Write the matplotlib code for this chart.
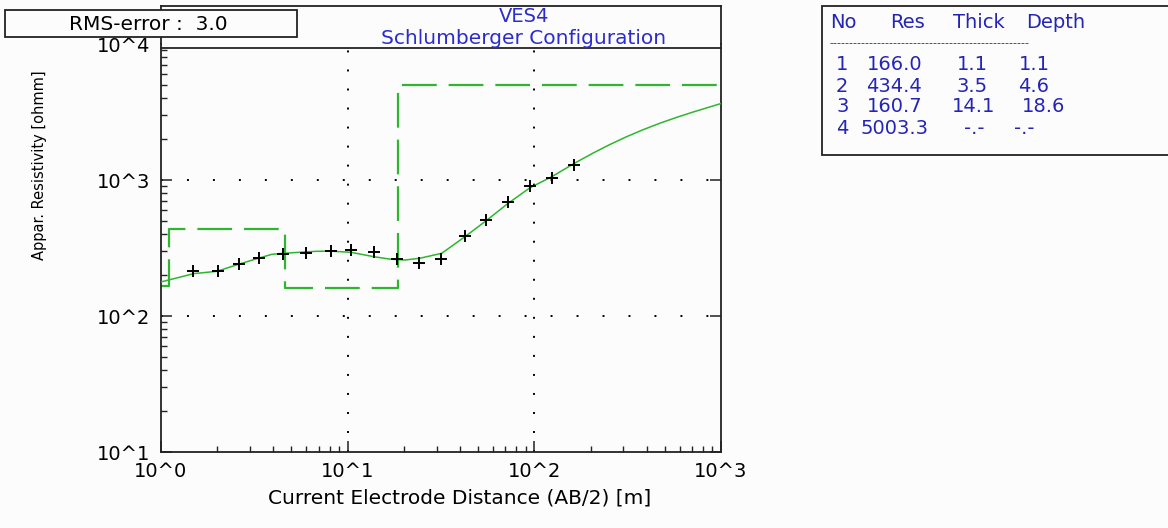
import matplotlib
matplotlib.use("Agg")
import matplotlib.pyplot as plt
import matplotlib.ticker as mticker
from matplotlib.lines import Line2D
from matplotlib.patches import Rectangle

plt.rcParams['font.family'] = ['DejaVu Sans']
plt.rcParams['lines.scale_dashes'] = False

# ---- data ----
obs_ab2 = [1.49, 2.01, 2.63, 3.36, 4.52, 5.98, 8.14, 10.4, 13.9, 18.4, 24.2, 31.8,
           42.5, 55.1, 72.6, 94.8, 124, 164]
obs_res = [214, 214, 240, 268, 284, 292, 302, 306, 297, 262, 245, 262,
           389, 508, 686, 903, 1040, 1288]

model_ab2 = [1.0, 1.5, 1.99, 2.6, 3.39, 3.92, 4.5, 5.5, 6.77, 8.1, 10.4, 13.8, 16.8,
             20.3, 24.4, 31.9, 42.5, 55, 72.4, 94.8, 124, 164, 207, 254, 312, 384,
             471, 579, 711, 1000]
model_res = [178, 205, 213, 240, 268, 284, 289, 294, 299, 300, 294, 273, 262,
             258, 266, 289, 383, 500, 674, 877, 1057, 1327, 1581, 1824, 2081, 2348,
             2616, 2889, 3164, 3650]

layer_no = ['1', '2', '3', '4']
layer_res = [166.0, 434.4, 160.7, 5003.3]
layer_thick = ['1.1', '3.5', '14.1', '-.-']
layer_depth = ['1.1', '4.6', '18.6', '-.-']
layer_top = [1.0, 1.1, 4.6, 18.6]   # depth of layer tops (first = axis start)
x_max = 1000.0

rms_text = "RMS-error :  3.0"
title1 = "VES4"
title2 = "Schlumberger Configuration"
xlabel = "Current Electrode Distance (AB/2) [m]"
ylabel = "Appar. Resistivity [ohmm]"
xtick_vals = [1, 10, 100, 1000]
xtick_labels = ["10^0", "10^1", "10^2", "10^3"]
ytick_vals = [10, 100, 1000, 10000]
ytick_labels = ["10^1", "10^2", "10^3", "10^4"]

# ---- figure ----
W, H = 1168, 528
bg = '#fcfcfc'
fig = plt.figure(figsize=(W / 100, H / 100), dpi=100, facecolor=bg)

def fx(px):
    return px / W

def fy(py):
    return 1 - py / H

ax = fig.add_axes([fx(161), fy(452), fx(721) - fx(161), fy(44) - fy(452)])
ax.set_facecolor(bg)
ax.set_xscale('log')
ax.set_yscale('log')
ax.set_xlim(1, 1000)
ax.set_ylim(10, 10000)
ax.spines['top'].set_visible(False)

green = '#2fb52f'
# grid dotted
for xv in [10, 100]:
    ax.axvline(xv, color='black', lw=1.4, linestyle=(0, (1.4, 12.3)), zorder=1)
for yv in [100, 1000]:
    ax.axhline(yv, color='black', lw=1.4, linestyle=(0, (1.4, 17.3)), zorder=1)

# layered model (dashed step)
step_x = layer_top + [x_max]
step_y = layer_res + [layer_res[-1]]
ax.step(step_x, step_y, where='post', color=green, lw=1.6,
        linestyle=(0, (25, 8.6)), zorder=2)

# model curve
ax.plot(model_ab2, model_res, color=green, lw=1.1, zorder=3)

# observed data
ax.plot(obs_ab2, obs_res, linestyle='none', marker='+', color='black',
        ms=9, mew=1.4, zorder=4)

# ticks
ax.xaxis.set_major_locator(mticker.FixedLocator(xtick_vals))
ax.xaxis.set_major_formatter(mticker.FixedFormatter(xtick_labels))
ax.yaxis.set_major_locator(mticker.FixedLocator(ytick_vals))
ax.yaxis.set_major_formatter(mticker.FixedFormatter(ytick_labels))
ax.xaxis.set_minor_locator(mticker.LogLocator(base=10, subs=range(2, 10)))
ax.yaxis.set_minor_locator(mticker.LogLocator(base=10, subs=range(2, 10)))
ax.xaxis.set_minor_formatter(mticker.NullFormatter())
ax.yaxis.set_minor_formatter(mticker.NullFormatter())
ax.tick_params(which='major', direction='in', length=8, width=1.1,
               labelsize=14, top=False, right=True, colors='#222222')
ax.tick_params(axis='x', which='major', pad=7)
ax.tick_params(axis='y', which='major', pad=8)
ax.tick_params(which='minor', direction='in', length=4, width=1.0,
               top=False, right=False, colors='#222222')
for lab in ax.get_xticklabels() + ax.get_yticklabels():
    lab.set_color('black')
for s in ax.spines.values():
    s.set_linewidth(1.3)
    s.set_color('#222222')
fig.canvas.draw()
top_tick = ax.yaxis.get_major_ticks()[-1]
top_tick.tick1line.set_visible(False)
top_tick.tick2line.set_visible(False)

# title frame above axes
frame_kw = dict(color='#222222', lw=1.3, transform=fig.transFigure)
fig.add_artist(Line2D([fx(161), fx(161)], [fy(44), fy(6)], **frame_kw))
fig.add_artist(Line2D([fx(721), fx(721)], [fy(44), fy(6)], **frame_kw))
fig.add_artist(Line2D([fx(161), fx(721)], [fy(6), fy(6)], **frame_kw))
fig.add_artist(Line2D([fx(161), fx(721)], [fy(48), fy(48)], **frame_kw))

blue = '#2b2bd0'
fig.text(fx(524), fy(17), title1, color=blue, fontsize=14, ha='center', va='center')
fig.text(fx(524), fy(39), title2, color=blue, fontsize=14.5, ha='center', va='center')

# RMS box
fig.add_artist(Rectangle((fx(5), fy(37)), fx(297) - fx(5), fy(10) - fy(37),
                         transform=fig.transFigure, facecolor=bg,
                         edgecolor='#222222', lw=1.3, zorder=5))
fig.text(fx(148), fy(24), rms_text, color='black', fontsize=14.5,
         ha='center', va='center', zorder=6)

# axis labels
fig.text(fx(460), fy(498), xlabel, fontsize=14.5, ha='center', va='center')
fig.text(fx(40), fy(165), ylabel, fontsize=10.5, ha='center', va='center',
         rotation=90)

# table box
fig.add_artist(Rectangle((fx(822), fy(155)), fx(1175) - fx(822), fy(6) - fy(155),
                         transform=fig.transFigure, facecolor=bg,
                         edgecolor='#222222', lw=1.3))
tcol = '#2424b8'
tfs = 14
hx = [830, 890, 953, 1026]
for x, t in zip(hx, ["No", "Res", "Thick", "Depth"]):
    fig.text(fx(x), fy(22), t, color=tcol, fontsize=tfs, ha='left', va='center')
fig.text(fx(829), fy(43), "-" * 50, color=tcol, fontsize=8, ha='left', va='center')
row_y = [65, 86, 107, 128]
col_no_x = 836
col_res_x = [867, 866, 867, 861]
col_th_x = [957, 956, 952, 964]
col_dp_x = [1019, 1018, 1022, 1014]
for i in range(4):
    y = row_y[i]
    fig.text(fx(col_no_x), fy(y), layer_no[i], color=tcol, fontsize=tfs, ha='left', va='center')
    fig.text(fx(col_res_x[i]), fy(y), f"{layer_res[i]:.1f}", color=tcol, fontsize=tfs, ha='left', va='center')
    fig.text(fx(col_th_x[i]), fy(y), layer_thick[i], color=tcol, fontsize=tfs, ha='left', va='center')
    fig.text(fx(col_dp_x[i]), fy(y), layer_depth[i], color=tcol, fontsize=tfs, ha='left', va='center')

fig.savefig('out.png', dpi=100, facecolor=fig.get_facecolor())
